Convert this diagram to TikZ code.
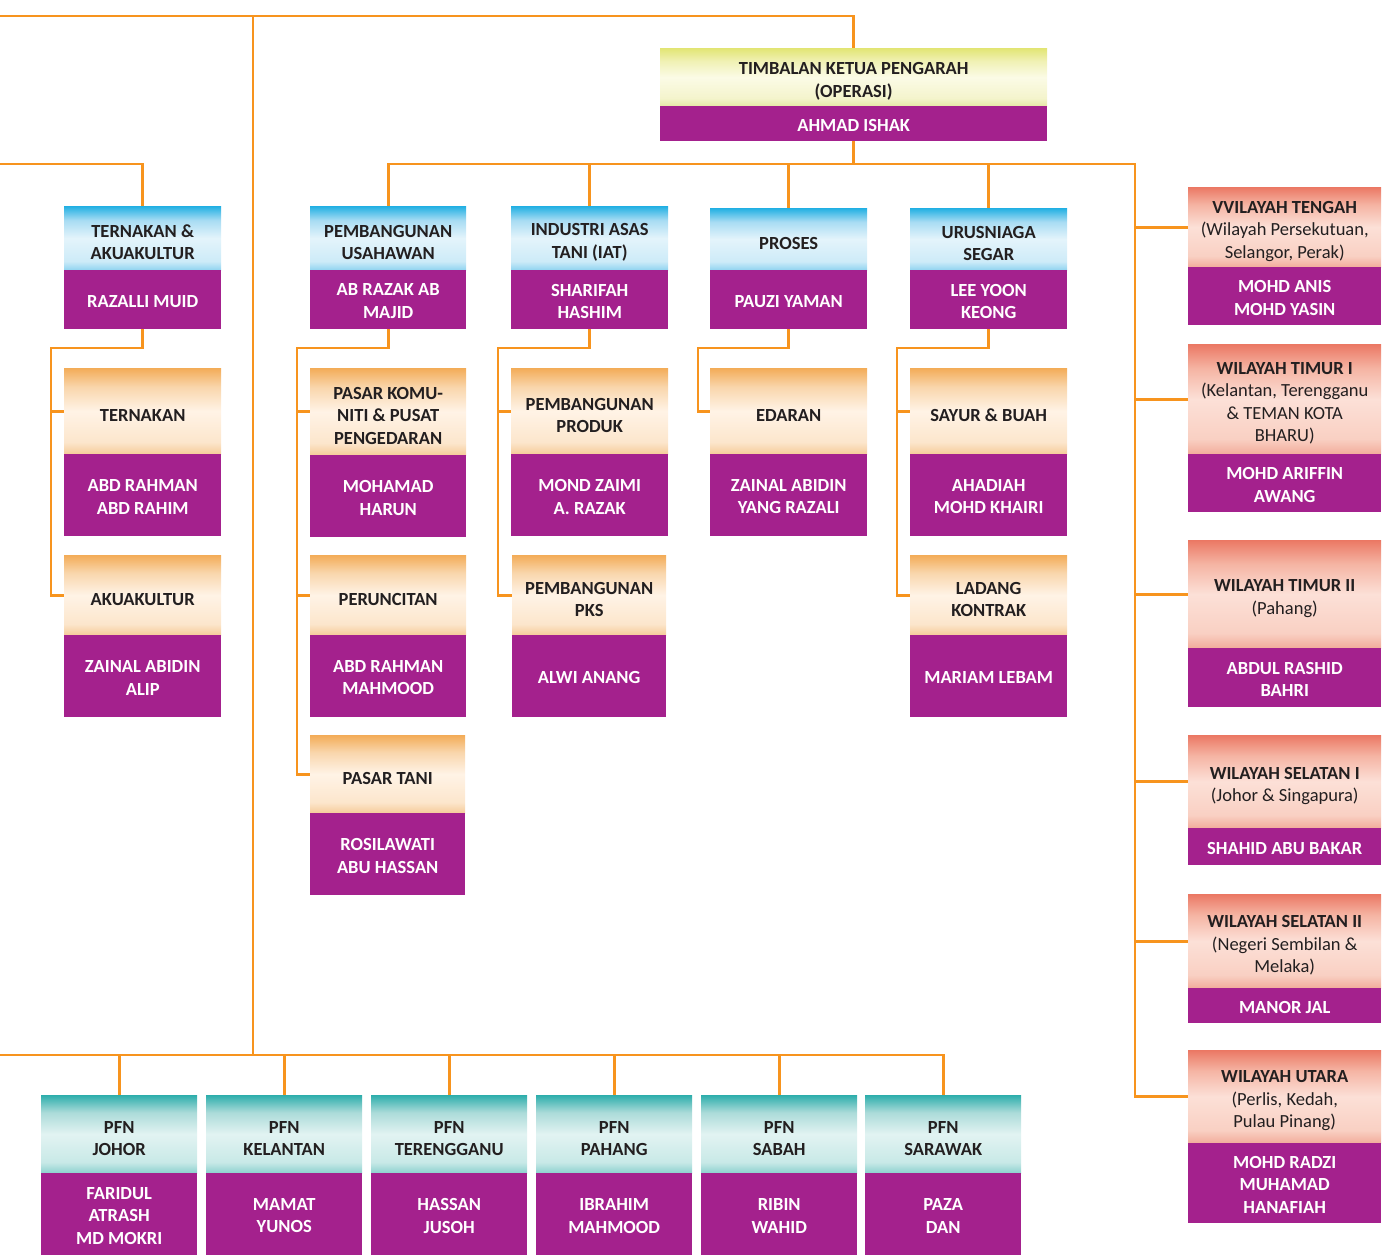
\documentclass[tikz,border=0pt]{standalone}
\usepackage{fontspec}
\setmainfont{Carlito}
\definecolor{linec}{HTML}{F7941E}
\definecolor{purp}{HTML}{A4218D}
\definecolor{htext}{HTML}{231F20}
% blue
\definecolor{bl0}{HTML}{8FD3F0}\definecolor{bl1}{HTML}{CDEBF8}\definecolor{bl2}{HTML}{E4F4FB}\definecolor{bl3}{HTML}{A8DCF3}\definecolor{bl4}{HTML}{22B0E3}
% orange
\definecolor{or0}{HTML}{F5CB99}\definecolor{or1}{HTML}{FCE6CC}\definecolor{or2}{HTML}{FFF3E6}\definecolor{or3}{HTML}{F9D6AC}\definecolor{or4}{HTML}{F3AC58}
% red
\definecolor{rd0}{HTML}{F2AC9B}\definecolor{rd1}{HTML}{F9D0C3}\definecolor{rd2}{HTML}{FCE0D7}\definecolor{rd3}{HTML}{F5B4A3}\definecolor{rd4}{HTML}{EB7864}
% teal
\definecolor{tl0}{HTML}{8BD0CE}\definecolor{tl1}{HTML}{C8E9E7}\definecolor{tl2}{HTML}{E2F3F2}\definecolor{tl3}{HTML}{ABDBD9}\definecolor{tl4}{HTML}{2EAEAC}
% yellow
\definecolor{yl0}{HTML}{E6E7A6}\definecolor{yl1}{HTML}{F4F4CC}\definecolor{yl2}{HTML}{FBFBE6}\definecolor{yl3}{HTML}{F0F1B4}\definecolor{yl4}{HTML}{E2E574}
\pgfdeclareverticalshading{blueh}{100bp}{color(0bp)=(bl0); color(25bp)=(bl0); color(32bp)=(bl1); color(50bp)=(bl2); color(64bp)=(bl3); color(75bp)=(bl4); color(100bp)=(bl4)}
\pgfdeclareverticalshading{orangeh}{100bp}{color(0bp)=(or0); color(25bp)=(or0); color(32bp)=(or1); color(50bp)=(or2); color(64bp)=(or3); color(75bp)=(or4); color(100bp)=(or4)}
\pgfdeclareverticalshading{redh}{100bp}{color(0bp)=(rd0); color(25bp)=(rd0); color(32bp)=(rd1); color(50bp)=(rd2); color(64bp)=(rd3); color(75bp)=(rd4); color(100bp)=(rd4)}
\pgfdeclareverticalshading{tealh}{100bp}{color(0bp)=(tl0); color(25bp)=(tl0); color(32bp)=(tl1); color(50bp)=(tl2); color(64bp)=(tl3); color(75bp)=(tl4); color(100bp)=(tl4)}
\pgfdeclareverticalshading{yellowh}{100bp}{color(0bp)=(yl0); color(25bp)=(yl0); color(32bp)=(yl1); color(50bp)=(yl2); color(64bp)=(yl3); color(75bp)=(yl4); color(100bp)=(yl4)}
\tikzset{
  conn/.style={draw=linec, line width=2.8pt},
  headbox/.style={rectangle, inner sep=0pt, anchor=north west},
  headtext/.style={inner sep=0pt, align=center, text=htext,
     font=\bfseries\fontsize{18.5}{22.5}\selectfont},
  bodybox/.style={rectangle, inner sep=0pt, anchor=north west, fill=purp},
  bodytext/.style={inner sep=0pt, align=center, text=white,
     font=\bfseries\fontsize{18.5}{22.5}\selectfont},
}
\newcommand\obox[9]{%
  \node[headbox, shading=#7, minimum width={(#3-#2)*1pt}, minimum height={(#5-#4)*1pt}] (#1-h) at (#2,#4) {};
  \node[headtext] (#1-t) at ([yshift=-4.2pt]#1-h.center) {#8};
  \node[bodybox, minimum width={(#3-#2)*1pt}, minimum height={(#6-#5)*1pt}] (#1-b) at (#2,#5) {};
  \node[bodytext] (#1-n) at ([yshift=-1.6pt]#1-b.center) {#9};
}
\newcommand\sub[1]{{\mdseries #1}}
\begin{document}
\begin{tikzpicture}[x=1pt,y=-1pt]
\useasboundingbox (0,0) rectangle (1390,1259);
% top box
\obox{tk}{660}{1047}{48}{106}{141}{yellowh}{TIMBALAN KETUA PENGARAH\\(OPERASI)}{AHMAD ISHAK}
% column A
\obox{ta}{64}{221}{206}{270}{329}{blueh}{TERNAKAN \&\\AKUAKULTUR}{RAZALLI MUID}
\obox{ta1}{64}{221}{368}{454}{536}{orangeh}{TERNAKAN}{ABD RAHMAN\\ABD RAHIM}
\obox{ta2}{64}{221}{555}{635}{717}{orangeh}{AKUAKULTUR}{ZAINAL ABIDIN\\ALIP}
% column B
\obox{pu}{310}{466}{206}{270}{329}{blueh}{PEMBANGUNAN\\USAHAWAN}{AB RAZAK AB\\MAJID}
\obox{pu1}{310}{466}{368}{455}{537}{orangeh}{PASAR KOMU-\\NITI \& PUSAT\\PENGEDARAN}{MOHAMAD\\HARUN}
\obox{pu2}{310}{466}{555}{635}{717}{orangeh}{PERUNCITAN}{ABD RAHMAN\\MAHMOOD}
\obox{pu3}{310}{465}{735}{813}{895}{orangeh}{PASAR TANI}{ROSILAWATI\\ABU HASSAN}
% column C
\obox{ia}{511}{668}{206}{270}{329}{blueh}{INDUSTRI ASAS\\TANI (IAT)}{SHARIFAH\\HASHIM}
\obox{ia1}{511}{668}{368}{454}{536}{orangeh}{PEMBANGUNAN\\PRODUK}{MOND ZAIMI\\A. RAZAK}
\obox{ia2}{512}{666}{555}{635}{717}{orangeh}{PEMBANGUNAN\\PKS}{ALWI ANANG}
% column D
\obox{pr}{710}{867}{208}{270}{329}{blueh}{PROSES}{PAUZI YAMAN}
\obox{pr1}{710}{867}{368}{454}{536}{orangeh}{EDARAN}{ZAINAL ABIDIN\\YANG RAZALI}
% column E
\obox{us}{910}{1067}{208}{270}{329}{blueh}{URUSNIAGA\\SEGAR}{LEE YOON\\KEONG}
\obox{us1}{910}{1067}{368}{454}{536}{orangeh}{SAYUR \& BUAH}{AHADIAH\\MOHD KHAIRI}
\obox{us2}{910}{1067}{555}{635}{717}{orangeh}{LADANG\\KONTRAK}{MARIAM LEBAM}
% right column
\obox{w1}{1188}{1381}{187}{267}{325}{redh}{VVILAYAH TENGAH\\\sub{(Wilayah Persekutuan,}\\\sub{Selangor, Perak)}}{MOHD ANIS\\MOHD YASIN}
\obox{w2}{1188}{1381}{344}{454}{512}{redh}{WILAYAH TIMUR I\\\sub{(Kelantan, Terengganu}\\\sub{\& TEMAN KOTA}\\\sub{BHARU)}}{MOHD ARIFFIN\\AWANG}
\obox{w3}{1188}{1381}{540}{648}{707}{redh}{WILAYAH TIMUR II\\\sub{(Pahang)}}{ABDUL RASHID\\BAHRI}
\obox{w4}{1188}{1381}{735}{828}{865}{redh}{WILAYAH SELATAN I\\\sub{(Johor \& Singapura)}}{SHAHID ABU BAKAR}
\obox{w5}{1188}{1381}{894}{988}{1023}{redh}{WILAYAH SELATAN II\\\sub{(Negeri Sembilan \&}\\\sub{Melaka)}}{MANOR JAL}
\obox{w6}{1188}{1381}{1050}{1143}{1223}{redh}{WILAYAH UTARA\\\sub{(Perlis, Kedah,}\\\sub{Pulau Pinang)}}{MOHD RADZI\\MUHAMAD\\HANAFIAH}
% bottom row
\obox{p1}{41}{197}{1095}{1173}{1255}{tealh}{PFN\\JOHOR}{FARIDUL\\ATRASH\\MD MOKRI}
\obox{p2}{206}{362}{1095}{1173}{1255}{tealh}{PFN\\KELANTAN}{MAMAT\\YUNOS}
\obox{p3}{371}{527}{1095}{1173}{1255}{tealh}{PFN\\TERENGGANU}{HASSAN\\JUSOH}
\obox{p4}{536}{692}{1095}{1173}{1255}{tealh}{PFN\\PAHANG}{IBRAHIM\\MAHMOOD}
\obox{p5}{701}{857}{1095}{1173}{1255}{tealh}{PFN\\SABAH}{RIBIN\\WAHID}
\obox{p6}{865}{1021}{1095}{1173}{1255}{tealh}{PFN\\SARAWAK}{PAZA\\DAN}
% coordinates
\coordinate (L1) at (0,16);
\coordinate (V1) at (253,16);
\coordinate (V2) at (253,1055);
\coordinate (L2) at (0,164);
\coordinate (L3) at (0,1055);
\coordinate (M1) at (1135,164);
\coordinate (taB) at (51,348);
\coordinate (puB) at (297,348);
\coordinate (iaB) at (498,348);
\coordinate (prB) at (698,348);
\coordinate (usB) at (897,348);
% connectors
\draw[conn] (L1) -| (tk-h.north);
\draw[conn] (V1) -- (V2);
\draw[conn] (L2) -| (ta-h.north);
\draw[conn] (L3) -| (p6-h.north);
\foreach \k in {1,...,5}{\draw[conn] (p\k-h.north) -- (p\k-h.north |- L3);}
\draw[conn] (tk-b.south) |- (M1) -- (M1 |- w6-h.west) -- (w6-h.west);
\foreach \k in {1,...,5}{\draw[conn] (M1 |- w\k-h.west) -- (w\k-h.west);}
\draw[conn] (M1) -| (pu-h.north);
\draw[conn] (ia-h.north) -- (ia-h.north |- M1);
\draw[conn] (pr-h.north) -- (pr-h.north |- M1);
\draw[conn] (us-h.north) -- (us-h.north |- M1);
% column A
\draw[conn] (ta-b.south) |- (taB) -- (taB |- ta2-h.west) -- (ta2-h.west);
\draw[conn] (taB |- ta1-h.west) -- (ta1-h.west);
% column B
\draw[conn] (pu-b.south) |- (puB) -- (puB |- pu3-h.west) -- (pu3-h.west);
\draw[conn] (puB |- pu1-h.west) -- (pu1-h.west);
\draw[conn] (puB |- pu2-h.west) -- (pu2-h.west);
% column C
\draw[conn] (ia-b.south) |- (iaB) -- (iaB |- ia2-h.west) -- (ia2-h.west);
\draw[conn] (iaB |- ia1-h.west) -- (ia1-h.west);
% column D
\draw[conn] (pr-b.south) |- (prB) -- (prB |- pr1-h.west) -- (pr1-h.west);
% column E
\draw[conn] (us-b.south) |- (usB) -- (usB |- us2-h.west) -- (us2-h.west);
\draw[conn] (usB |- us1-h.west) -- (us1-h.west);
\end{tikzpicture}
\end{document}
